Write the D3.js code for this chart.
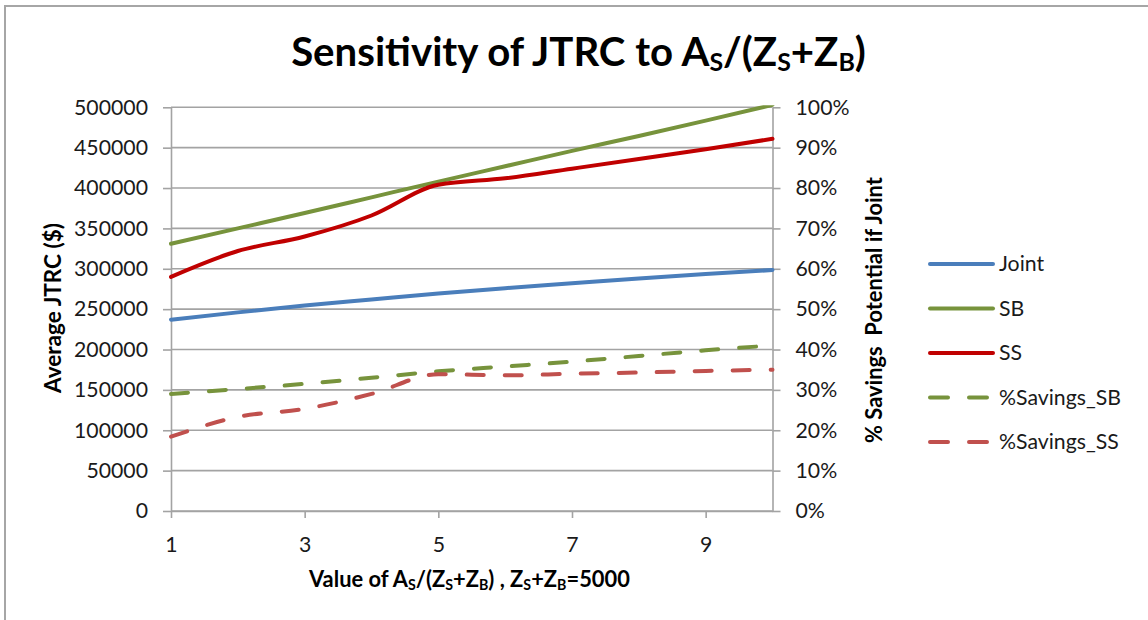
<!DOCTYPE html>
<html>
<head>
<meta charset="utf-8">
<script src="https://cdn.jsdelivr.net/npm/d3@7"></script>
<style>
  html, body { margin: 0; padding: 0; background: #fff; }
  svg { display: block; }
  text { font-family: Lato, "Open Sans", sans-serif; }
</style>
</head>
<body>
<svg id="chart" width="1148" height="620"></svg>
<script>
// ---- data ----
const categories = [1, 2, 3, 4, 5, 6, 7, 8, 9, 10];
const joint   = [237000, 246000, 254500, 262000, 269500, 276000, 282000, 288000, 293500, 298500];
const sb      = [331000, 350000, 369000, 388500, 408000, 427000, 446000, 464500, 483500, 503000];
const ss      = [290000, 322000, 340000, 366000, 404000, 412000, 424000, 436000, 448000, 461000];
const pctSB   = [0.290, 0.302, 0.315, 0.330, 0.346, 0.358, 0.370, 0.384, 0.398, 0.410];
const pctSS   = [0.184, 0.233, 0.253, 0.290, 0.339, 0.336, 0.340, 0.343, 0.347, 0.350];
const leftTicks  = [0, 50000, 100000, 150000, 200000, 250000, 300000, 350000, 400000, 450000, 500000];
const rightTicks = [0, 0.1, 0.2, 0.3, 0.4, 0.5, 0.6, 0.7, 0.8, 0.9, 1.0];
const xTicks = [1, 3, 5, 7, 9];
const seriesNames = ["Joint", "SB", "SS", "%Savings_SB", "%Savings_SS"];

// ---- layout ----
const svg = d3.select("#chart");
const L = 171, R = 772.5, T = 107.3, B = 511;
const gridColor = "#a3a3a3";

const x = d3.scaleLinear().domain([1, 10]).range([L, R]);
const yL = d3.scaleLinear().domain([0, 500000]).range([B, T]);
const yR = d3.scaleLinear().domain([0, 1]).range([B, T]);

// chart frame (right/bottom edges fall outside the picture)
svg.append("rect").attr("x", 5).attr("y", 6).attr("width", 1400).attr("height", 900)
  .attr("fill", "none").attr("stroke", "#a6a6a6").attr("stroke-width", 2);

function fit(sel, target) {
  const w = sel.node().getComputedTextLength();
  const fs = parseFloat(sel.attr("font-size"));
  sel.attr("font-size", fs * target / w);
  return fs * target / w;
}

// gridlines
svg.append("g").selectAll("line").data(leftTicks).join("line")
  .attr("x1", L).attr("x2", R)
  .attr("y1", d => yL(d)).attr("y2", d => yL(d))
  .attr("stroke", gridColor).attr("stroke-width", 1.6);

// measure tick font size
const probe = svg.append("text").attr("font-size", 20).text("500000");
const tickFS = fit(probe, 74);
probe.remove();

function styleAxis(g) {
  g.select(".domain").attr("stroke", gridColor).attr("stroke-width", 1.6);
  g.selectAll(".tick line").attr("stroke", gridColor).attr("stroke-width", 1.6);
  g.selectAll(".tick text").attr("font-family", "Lato, sans-serif")
    .attr("font-size", tickFS).attr("fill", "#1a1a1a");
}

const axL = svg.append("g").attr("transform", `translate(${L},0)`)
  .call(d3.axisLeft(yL).tickValues(leftTicks).tickSize(8).tickSizeOuter(0).tickPadding(15).tickFormat(d => String(d)));
styleAxis(axL);

const axR = svg.append("g").attr("transform", `translate(${R},0)`)
  .call(d3.axisRight(yR).tickValues(rightTicks).tickSize(8).tickSizeOuter(0).tickPadding(15).tickFormat(d3.format(".0%")));
styleAxis(axR);

const axX = svg.append("g").attr("transform", `translate(0,${B})`)
  .call(d3.axisBottom(x).tickValues(xTicks).tickSize(7).tickSizeOuter(0).tickPadding(19).tickFormat(d => String(d)));
styleAxis(axX);

// clip for the plot lines
svg.append("clipPath").attr("id", "plotclip").append("rect")
  .attr("x", L - 4).attr("y", T - 2).attr("width", R - L + 8).attr("height", B - T + 6);

const colors = { joint: "#4a7ebb", sb: "#77933c", ss: "#c00000", pctSB: "#77933c", pctSS: "#c0504d" };
const dash = "17 21";

const lineL = d3.line().x((d, i) => x(categories[i])).y(d => yL(d)).curve(d3.curveMonotoneX);
const lineR = d3.line().x((d, i) => x(categories[i])).y(d => yR(d)).curve(d3.curveMonotoneX);

const plot = svg.append("g").attr("clip-path", "url(#plotclip)");
const series = [
  { data: joint, line: lineL, color: colors.joint, dashed: false },
  { data: sb, line: lineL, color: colors.sb, dashed: false },
  { data: ss, line: lineL, color: colors.ss, dashed: false },
  { data: pctSB, line: lineR, color: colors.pctSB, dashed: true },
  { data: pctSS, line: lineR, color: colors.pctSS, dashed: true }
];
series.forEach(s => {
  plot.append("path").attr("d", s.line(s.data))
    .attr("fill", "none").attr("stroke", s.color).attr("stroke-width", 4)
    .attr("stroke-linecap", "round").attr("stroke-linejoin", "round")
    .attr("stroke-dasharray", s.dashed ? dash : null);
});

// legend
const legY = d3.scaleLinear().domain([0, 4]).range([264, 442]);
const leg = svg.append("g");
series.forEach((s, i) => {
  const yy = legY(i);
  leg.append("line").attr("x1", 930).attr("x2", 993).attr("y1", yy).attr("y2", yy)
    .attr("stroke", s.color).attr("stroke-width", 4).attr("stroke-linecap", "round")
    .attr("stroke-dasharray", s.dashed ? "18 21" : null);
  leg.append("text").attr("x", 999).attr("y", yy).attr("dy", "0.35em")
    .attr("font-size", tickFS).attr("fill", "#1a1a1a").text(seriesNames[i]);
});

// helper to write text with subscripts: parts = [[text, isSub], ...]
function richText(sel, parts, subScale) {
  parts.forEach(([t, sub], i) => {
    const ts = sel.append("tspan").text(t);
    if (sub) ts.attr("font-size", (subScale * 100) + "%").attr("baseline-shift", "-18%");
  });
}

// title
const title = svg.append("text").attr("x", (291 + 866) / 2).attr("y", 66)
  .attr("text-anchor", "middle").attr("font-weight", "bold").attr("font-size", 30).attr("fill", "#000");
richText(title, [["Sensitivity of JTRC to A", false], ["S", true], ["/(Z", false], ["S", true], ["+Z", false], ["B", true], [")", false]], 0.62);
fit(title, 575);

// x-axis title
const xt = svg.append("text").attr("x", (309 + 630) / 2).attr("y", 587)
  .attr("text-anchor", "middle").attr("font-weight", "bold").attr("font-size", 17).attr("fill", "#000");
richText(xt, [["Value of A", false], ["S", true], ["/(Z", false], ["S", true], ["+Z", false], ["B", true], [") , Z", false], ["S", true], ["+Z", false], ["B", true], ["=5000", false]], 0.65);
fit(xt, 321);

// left axis title
const ylt = svg.append("text").attr("transform", "translate(53,308) rotate(-90)")
  .attr("text-anchor", "middle").attr("dy", "0.35em").attr("font-weight", "bold").attr("font-size", 17)
  .attr("fill", "#000").text("Average JTRC ($)");
fit(ylt, 170);

// right axis title
const yrt = svg.append("text").attr("transform", "translate(874,310) rotate(-90)")
  .attr("text-anchor", "middle").attr("dy", "0.35em").attr("font-weight", "bold").attr("font-size", 17)
  .attr("fill", "#000").style("white-space", "pre").text("% Savings  Potential if Joint");
fit(yrt, 266);
</script>
</body>
</html>
